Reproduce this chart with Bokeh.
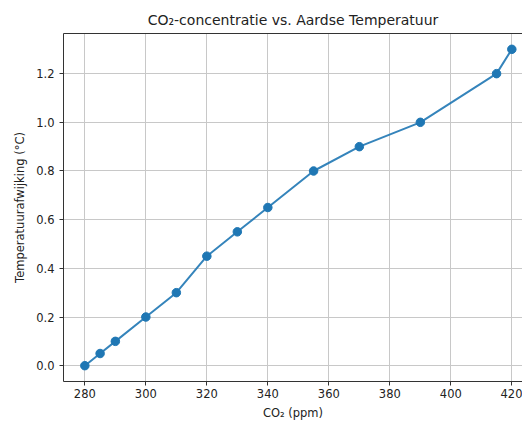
from bokeh.plotting import figure
from bokeh.models import Range1d, FixedTicker, LinearAxis, NumeralTickFormatter
from bokeh.embed import file_html
from bokeh.resources import INLINE

co2_ppm = [280, 285, 290, 300, 310, 320, 330, 340, 355, 370, 390, 415, 420]
temp_anomaly = [0.0, 0.05, 0.1, 0.2, 0.3, 0.45, 0.55, 0.65, 0.8, 0.9, 1.0, 1.2, 1.3]
x_ticks = [280, 300, 320, 340, 360, 380, 400, 420]
y_ticks = [0.0, 0.2, 0.4, 0.6, 0.8, 1.0, 1.2]

FONT = "DejaVu Sans"
BLUE = "#1f77b4"

p = figure(width=522, height=422, output_backend="svg", toolbar_location=None,
           x_range=Range1d(273, 423.5), y_range=Range1d(-0.065, 1.365),
           min_border_left=63, min_border_right=0, min_border_top=33, min_border_bottom=0)

p.title.text = "CO₂-concentratie vs. Aardse Temperatuur"
p.title.align = "center"
p.title.offset = 6
p.title.standoff = 12
p.title.text_font = FONT
p.title.text_font_size = "14px"
p.title.text_font_style = "normal"
p.title.text_color = "#222222"

p.line(co2_ppm, temp_anomaly, line_color=BLUE, line_width=2, line_alpha=0.9)
p.scatter(co2_ppm, temp_anomaly, size=8.5, fill_color=BLUE, line_color=BLUE)

for ax in (p.xaxis[0], p.yaxis[0]):
    ax.major_label_text_font = FONT
    ax.major_label_text_font_size = "11.5px"
    ax.major_label_text_color = "#222222"
    ax.axis_label_text_font = FONT
    ax.axis_label_text_font_size = "11.5px"
    ax.axis_label_text_font_style = "normal"
    ax.axis_label_text_color = "#222222"
    ax.minor_tick_line_color = None
    ax.major_tick_out = 4
    ax.major_tick_in = 0
    ax.axis_line_color = "#333333"
    ax.major_tick_line_color = "#333333"
    ax.major_label_standoff = 3

p.xaxis.axis_label_standoff = 5
p.yaxis.major_label_standoff = 5
p.yaxis.axis_label_standoff = 6
p.xaxis.ticker = FixedTicker(ticks=x_ticks)
p.yaxis.ticker = FixedTicker(ticks=y_ticks)
p.yaxis.formatter = NumeralTickFormatter(format="0.0")
p.xaxis.axis_label = "CO₂ (ppm)"
p.yaxis.axis_label = "Temperatuurafwijking (°C)"

top = LinearAxis(ticker=FixedTicker(ticks=[]), major_label_text_font_size="0px",
                 axis_line_color="#333333", major_tick_line_color=None,
                 minor_tick_line_color=None)
p.add_layout(top, "above")

p.outline_line_color = None
p.xgrid.grid_line_color = "#c8c8c8"
p.ygrid.grid_line_color = "#c8c8c8"
p.xgrid.grid_line_width = 1
p.ygrid.grid_line_width = 1

open("out.html", "w").write(file_html(p, INLINE))
